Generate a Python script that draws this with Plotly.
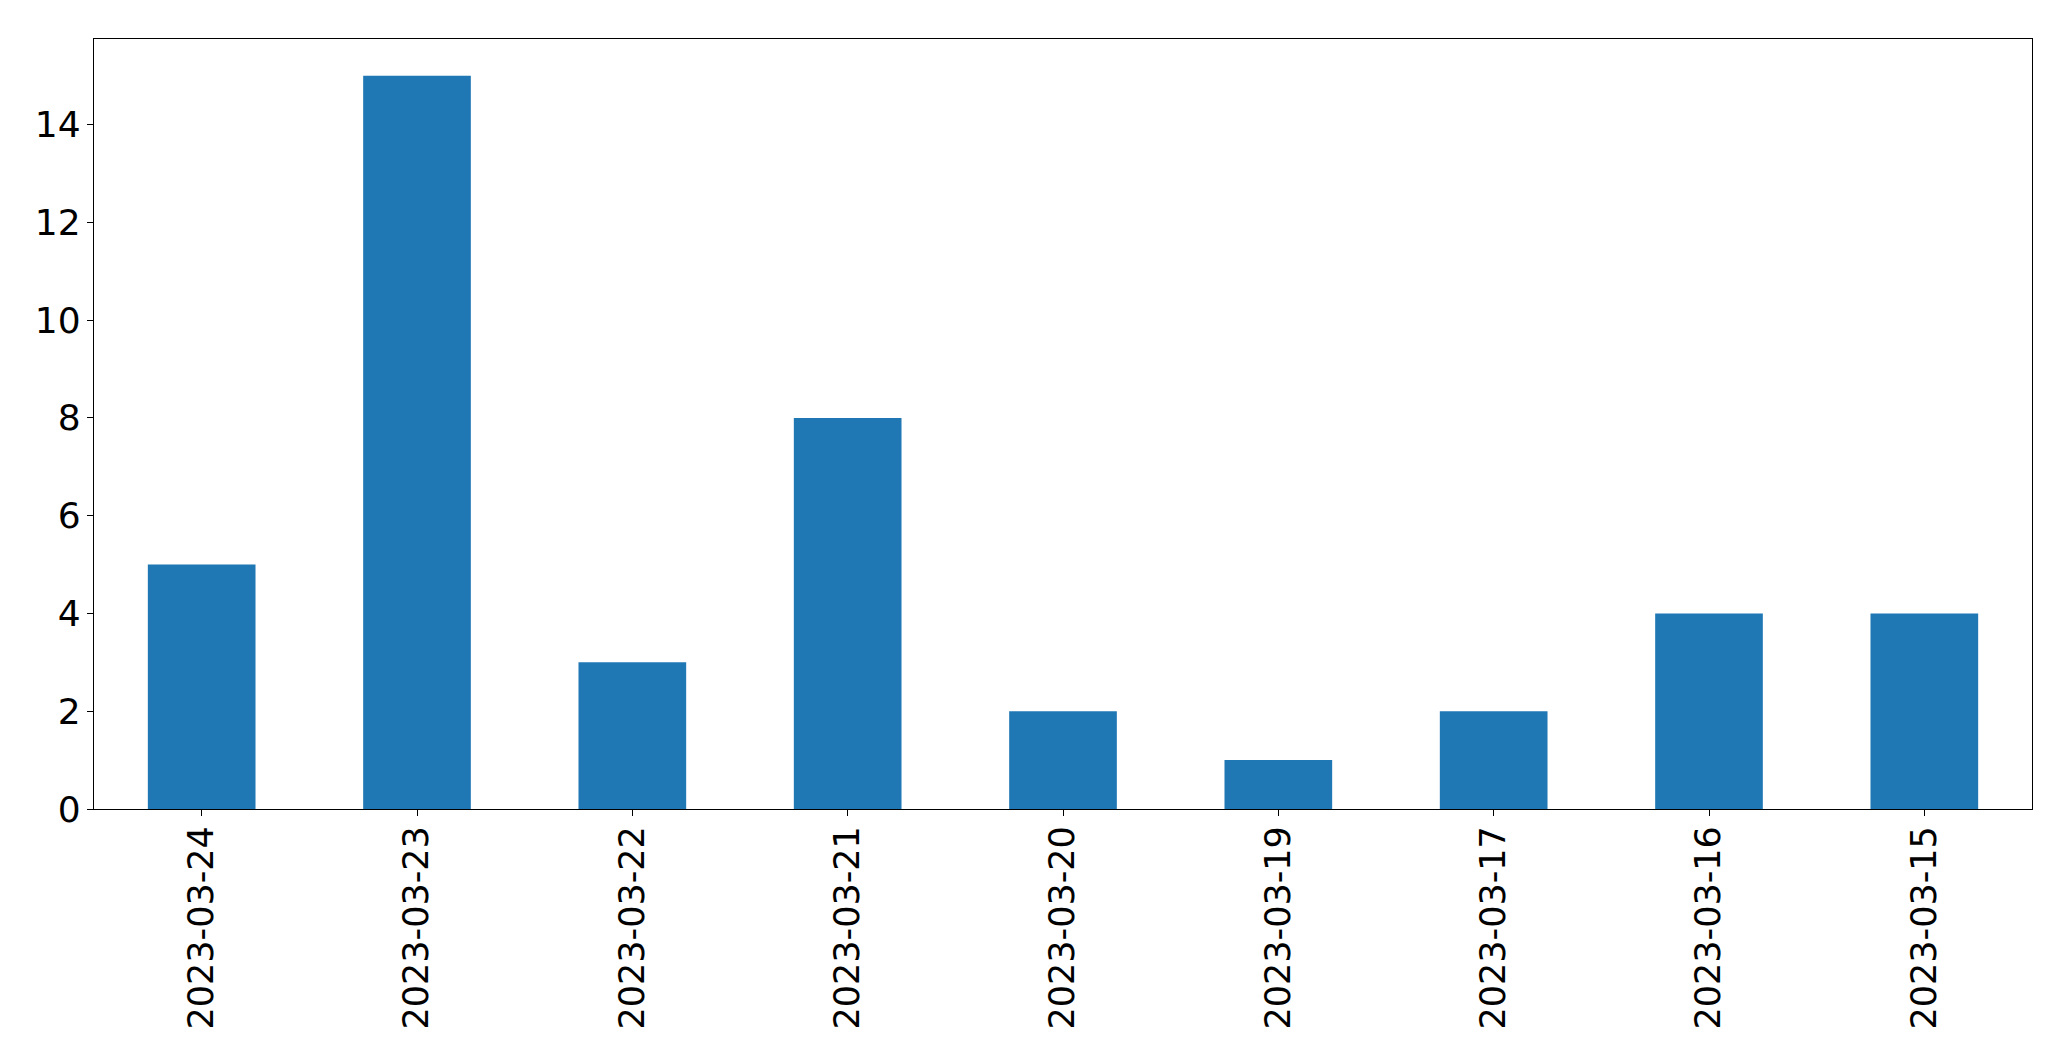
import plotly.graph_objects as go

dates = ["2023-03-24", "2023-03-23", "2023-03-22", "2023-03-21", "2023-03-20",
         "2023-03-19", "2023-03-17", "2023-03-16", "2023-03-15"]
counts = [5, 15, 3, 8, 2, 1, 2, 4, 4]
y_ticks = [0, 2, 4, 6, 8, 10, 12, 14]

fig = go.Figure(go.Bar(x=dates, y=counts, marker_color="#1f77b4",
                       marker_line_width=0, width=0.5))

fig.update_layout(
    width=2063, height=1053,
    margin=dict(l=86, r=39, t=31, b=252),
    plot_bgcolor="white", paper_bgcolor="white",
    showlegend=False,
    font=dict(family="DejaVu Sans", size=34, color="black"),
    bargap=0.5,
)
fig.update_xaxes(type="category", range=[-0.5, 8.5], tickangle=-90,
                 showline=True, linecolor="black", linewidth=1.3, mirror=True,
                 ticks="outside", ticklen=6, tickcolor="black", tickwidth=1.3,
                 showgrid=False, tickfont=dict(size=35), ticklabelstandoff=-4)
fig.update_yaxes(range=[0, 15.75], tickvals=y_ticks,
                 showline=True, linecolor="black", linewidth=1.3, mirror=True,
                 ticks="outside", ticklen=6, tickcolor="black", tickwidth=1.3,
                 showgrid=False, zeroline=False, tickfont=dict(size=36),
                 ticklabelstandoff=-1)

fig.write_html("out.html")
